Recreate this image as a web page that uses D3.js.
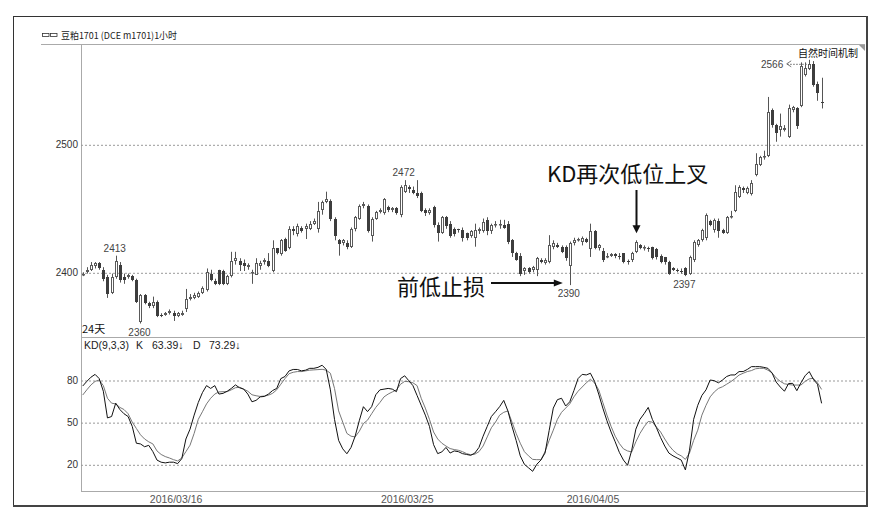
<!DOCTYPE html>
<html><head><meta charset="utf-8">
<script src="https://cdn.jsdelivr.net/npm/d3@7/dist/d3.min.js"></script>
<style>
html,body{margin:0;padding:0;background:#fff;}
svg{display:block;}
</style></head><body>
<svg id="c" width="888" height="520"></svg>
<script>
// ---------------- DATA ----------------
const titleText = "豆粕1701 (DCE m1701)1小时";
const priceTicks = [2400, 2500];
const kdTicks = [20, 50, 80];
const dateTickIdx = [23, 79, 124];
const dateTickLabels = ["2016/03/16", "2016/03/25", "2016/04/05"];

const open = [
2398,2400,2402,2405,2407,2402,2396,2384,2396,2406,
2396,2396,2397,2394,2361,2382,2376,2374,2377,2367,
2367,2368,2368,2366,2367,2371,2379,2380,2381,2384,
2386,2399,2393,2402,2401,2391,2397,2409,2409,2407,
2404,2400,2398,2405,2408,2409,2401,2419,2414,2426,
2419,2434,2430,2435,2434,2434,2438,2434,2449,2455,
2456,2442,2425,2423,2423,2420,2434,2442,2452,2452,
2428,2442,2447,2446,2451,2449,2450,2445,2463,2467,
2464,2462,2462,2449,2446,2451,2437,2431,2443,2438,
2434,2434,2433,2431,2428,2427,2432,2432,2441,2432,
2437,2437,2437,2438,2425,2415,2413,2401,2403,2402,
2402,2410,2407,2408,2420,2421,2420,2420,2405,2423,
2425,2424,2426,2418,2432,2419,2417,2413,2413,2414,
2413,2415,2409,2410,2416,2421,2419,2419,2420,2418,
2413,2412,2408,2403,2402,2401,2403,2399,2410,2421,
2425,2427,2440,2433,2440,2433,2431,2443,2448,2459,
2466,2462,2461,2476,2484,2490,2491,2527,2515,2511,
2511,2506,2527,2528,2530,2554,2559,2563,2547,2533
];
const high = [
2400,2404,2408,2408,2408,2404,2398,2399,2413,2408,
2399,2399,2398,2395,2383,2383,2377,2381,2378,2368,
2369,2371,2370,2369,2370,2387,2383,2384,2385,2389,
2403,2402,2395,2402,2402,2398,2416,2416,2411,2410,
2407,2402,2411,2409,2411,2415,2425,2419,2426,2427,
2436,2436,2438,2436,2438,2440,2442,2455,2456,2463,
2457,2443,2426,2426,2425,2435,2444,2453,2455,2453,
2443,2448,2450,2458,2452,2451,2451,2468,2472,2468,
2467,2472,2463,2450,2450,2452,2439,2444,2444,2440,
2435,2434,2435,2431,2433,2438,2435,2442,2443,2438,
2440,2441,2441,2440,2426,2416,2415,2404,2404,2405,
2412,2411,2411,2429,2425,2423,2421,2421,2424,2427,
2427,2428,2427,2438,2433,2422,2419,2415,2415,2415,
2415,2415,2410,2416,2425,2422,2421,2420,2420,2419,
2414,2412,2409,2404,2403,2403,2404,2413,2425,2426,
2434,2446,2441,2442,2442,2434,2444,2448,2468,2468,
2467,2467,2472,2493,2491,2495,2537,2528,2516,2524,
2515,2531,2530,2529,2564,2564,2566,2565,2549,2552
];
const low = [
2397,2399,2401,2403,2402,2393,2380,2383,2395,2392,
2391,2395,2393,2376,2360,2375,2372,2372,2365,2365,
2366,2367,2362,2365,2366,2369,2378,2379,2380,2383,
2385,2393,2390,2390,2390,2390,2396,2406,2401,2401,
2402,2391,2398,2402,2406,2404,2400,2414,2413,2416,
2418,2429,2428,2431,2426,2433,2437,2431,2445,2454,
2440,2425,2413,2421,2418,2419,2432,2441,2450,2431,
2424,2441,2446,2445,2447,2447,2445,2443,2462,2462,
2461,2458,2447,2444,2445,2435,2424,2430,2434,2427,
2428,2431,2424,2425,2427,2420,2430,2431,2429,2430,
2435,2434,2434,2422,2412,2409,2397,2398,2399,2400,
2397,2407,2406,2407,2418,2419,2415,2409,2390,2421,
2424,2421,2423,2412,2418,2417,2408,2411,2412,2411,
2410,2407,2406,2408,2415,2418,2417,2416,2410,2410,
2407,2406,2398,2401,2400,2399,2397,2398,2408,2420,
2424,2425,2436,2431,2427,2430,2430,2442,2447,2458,
2462,2461,2460,2475,2483,2488,2490,2513,2502,2506,
2510,2505,2525,2512,2529,2553,2558,2545,2534,2528
];
const close = [
2399,2402,2406,2407,2403,2395,2383,2396,2409,2394,
2394,2398,2394,2377,2382,2376,2374,2377,2366,2366,
2368,2370,2366,2368,2368,2379,2381,2382,2384,2388,
2400,2394,2391,2391,2391,2397,2409,2411,2406,2405,
2406,2400,2407,2407,2410,2405,2419,2415,2425,2417,
2434,2432,2436,2432,2436,2438,2440,2448,2455,2457,
2442,2428,2422,2425,2420,2434,2443,2452,2453,2432,
2442,2447,2449,2457,2449,2450,2446,2467,2468,2465,
2462,2460,2448,2446,2449,2437,2431,2443,2436,2428,
2430,2433,2427,2427,2432,2433,2434,2439,2432,2437,
2438,2438,2435,2424,2415,2410,2399,2403,2400,2404,
2411,2408,2410,2421,2423,2420,2416,2411,2423,2425,
2426,2427,2424,2432,2419,2421,2410,2413,2414,2413,
2412,2408,2408,2415,2424,2419,2420,2418,2411,2412,
2408,2408,2399,2402,2401,2400,2398,2412,2424,2425,
2433,2445,2437,2441,2432,2431,2443,2444,2463,2467,
2464,2466,2470,2485,2490,2491,2525,2515,2509,2514,
2513,2528,2529,2514,2561,2560,2563,2546,2540,2532
];
const kVals = [
75.7,79,82,84,81,72,53,54,63.5,59,
56,54,47,35,34.5,32.5,33.5,29,23,21.5,
21,21.5,21.5,20.5,24,38,45,55,64,71,
76,74,76,70,70.5,72,74,76.5,74.5,73.5,
70,64.5,65.5,68,68.3,70,72.5,74,81,82.5,
86.5,87.5,87.5,86.5,87,88.3,88.3,89,90.5,87.5,
73,52,37,31,27.5,32,40,51,61,57.5,
61,69.5,73,73.5,74,73.5,71.7,81,83,79.5,
76,69,62,55,47,34,27.6,28.8,32,28,
29.5,29,27.6,27,26.4,28,32,40,47,54,
57.4,61,65.5,58,47,37,26,20,17.5,15,
20,23,28,44,60,66,67,61.5,64.5,72.5,
81,84,83.6,84.8,79,70,60,51,43,36,
28.5,23,19.3,30,45,52,56,60.5,52,46,
39,33,28,26,24.5,23,16,30,52,62,
69,73,80,79.5,78,80,82.5,83.6,83.6,86,
86,87.5,89.5,89.5,89.5,89,88.3,85,78.5,75,
72,77.5,77.6,72.4,78,83,86,80.5,77,63.39
];
const dVals = [
69.3,73,76.5,79,80,76,67,63.5,63,60.5,
59,56,50,45.5,41,38,36,34.5,29.5,27,
25.5,24.5,23.3,22.4,24.5,29,33.6,42,52,57.4,
63,67,70,71.5,71.7,71.7,73,74.5,74.8,73.5,
72,69.5,68.8,68.3,68.6,69.2,70.5,73,77,81,
84.5,85.5,86,86,86.5,87,87.2,87.4,87.6,87,
84.8,74,58,50,42,40,39.5,43.5,49,51.4,
56,60.5,64,68,70,71.5,72.9,77,79,78.8,
78,76,67,60,52,43,38,35,33,31.2,
30.5,30,29,27.6,26.8,27.2,29,33,39.5,46,
50,55,57,58,50,42,35,29,26,23.5,
23.3,23.3,29,37,44.3,52,57,60,63,68,
72,75,78,80.5,78,73,64,55,47,40,
34.8,31,29.5,28.8,36,42,46.7,50.5,50,46.5,
43,38,33.5,30,27.5,26,23.5,28,37,44.3,
55,62,68,71.5,74,75.2,77,78.8,81,83.5,
84.8,86,86.7,88,88.3,88.3,87,85,81.5,79,
77.3,76.8,76.4,76.4,76.4,79,80.8,81.2,78,73.29
];
// extreme-price labels: bar index, which side
const highMarks = [8, 78];
const lowMarks = [14, 118, 146];
const peakMark = 176;
const periodLabel = "24天";
const modeLabel = "自然时间机制";
const kdName = "KD(9,3,3)";
const noteCross = "KD再次低位上叉";
const noteCrossIdx = 134;
const noteStop = "前低止损";
const noteStopIdx = 118;

// ---------------- LAYOUT ----------------
const svg = d3.select("#c");
const L = 81, R = 865, TOP = 44, MID = 337, BOT = 491;
const n = open.length;
const x = d3.scaleLinear().domain([0, n - 1]).range([82.7, 821.6]);
const yP = d3.scaleLinear().domain([2400, 2500]).range([272.3, 144.3]);
const yK = d3.scaleLinear().domain([20, 80]).range([464.3, 380]);
const numFont = "'Liberation Sans', Arial, sans-serif";
const cjkFont = "'Noto Sans CJK SC', 'Liberation Sans', sans-serif";

// outer frame
svg.append("line").attr("x1",13.5).attr("x2",13.5).attr("y1",16).attr("y2",507).attr("stroke","#333");
svg.append("line").attr("x1",13).attr("x2",868).attr("y1",16.5).attr("y2",16.5).attr("stroke","#333");
svg.append("rect").attr("x",866).attr("y",16).attr("width",2).attr("height",491).attr("fill","#444");
svg.append("rect").attr("x",13).attr("y",505).attr("width",855).attr("height",2).attr("fill","#444");

// title
svg.append("rect").attr("x",42.5).attr("y",33.5).attr("width",6.5).attr("height",3).attr("fill","none").attr("stroke","#333").attr("stroke-width",0.8);
svg.append("rect").attr("x",50.5).attr("y",33.5).attr("width",6.5).attr("height",3).attr("fill","none").attr("stroke","#333").attr("stroke-width",0.8);
svg.append("text").attr("x",61).attr("y",39).attr("font-family",cjkFont).attr("font-size",9.5)
  .attr("fill","#222").attr("textLength",116).attr("lengthAdjust","spacingAndGlyphs").text(titleText);

// pane lines
const paneStroke = "#aaa";
svg.append("line").attr("x1",41).attr("x2",R).attr("y1",TOP+0.5).attr("y2",TOP+0.5).attr("stroke",paneStroke);
svg.append("line").attr("x1",L+0.5).attr("x2",L+0.5).attr("y1",TOP).attr("y2",BOT+0.5).attr("stroke",paneStroke);
svg.append("line").attr("x1",L).attr("x2",R).attr("y1",MID+0.5).attr("y2",MID+0.5).attr("stroke",paneStroke);
svg.append("line").attr("x1",L).attr("x2",R).attr("y1",BOT+0.5).attr("y2",BOT+0.5).attr("stroke",paneStroke);
svg.append("path").attr("d",`M859,45 L865,45 L865,51 Z`).attr("fill","#999");

// gridlines + y labels
function yAxis(scale, ticks) {
  const grid = svg.append("g").attr("transform",`translate(${L},0)`)
    .call(d3.axisLeft(scale).tickValues(ticks).tickSize(-(R - L)).tickFormat(""));
  grid.select(".domain").remove();
  grid.selectAll(".tick line").attr("stroke","#999").attr("stroke-dasharray","2,2")
    .attr("transform","translate(0,0.5)");
  const lab = svg.append("g").attr("transform",`translate(${L},0)`)
    .call(d3.axisLeft(scale).tickValues(ticks).tickSize(0).tickPadding(3).tickFormat(d3.format("d")));
  lab.select(".domain").remove();
  lab.selectAll("text").attr("font-family",numFont).attr("font-size",10).attr("fill","#333");
}
yAxis(yP, priceTicks);
yAxis(yK, kdTicks);

// date axis
const xa = svg.append("g").attr("transform",`translate(0,${BOT})`)
  .call(d3.axisBottom(x)
    .tickValues(dateTickIdx.map(i => i - 0.5)).tickSize(0).tickPadding(5)
    .tickFormat((d, k) => dateTickLabels[k]));
xa.select(".domain").remove();
xa.selectAll("text").attr("font-family",numFont).attr("font-size",10.5).attr("fill","#555");

// candles
const idx = d3.range(n);
const cg = svg.append("g");
const cx = i => Math.round(x(i)) + 0.5;
cg.selectAll("line.w").data(idx).join("line").attr("class","w")
  .attr("x1",cx).attr("x2",cx).attr("y1",i => yP(high[i])).attr("y2",i => yP(low[i]))
  .attr("stroke","#555").attr("stroke-width",1);
cg.selectAll("rect.b").data(idx).join("rect").attr("class","b")
  .each(function(i) {
    const up = close[i] >= open[i];
    const yt = Math.round(yP(Math.max(open[i], close[i])));
    const yb = Math.round(yP(Math.min(open[i], close[i])));
    const h = Math.max(1, yb - yt);
    const s = d3.select(this);
    if (up) {
      s.attr("x", cx(i) - 1).attr("y", yt + 0.5).attr("width", 2).attr("height", Math.max(0.5, h - 1 + 0.001))
       .attr("fill","#fff").attr("stroke","#5a5a5a").attr("stroke-width",1);
    } else {
      s.attr("x", cx(i) - 1.5).attr("y", yt).attr("width", 3).attr("height", h).attr("fill","#3d3d3d");
    }
  });

// KD lines
const line = d3.line().x((v, i) => x(i)).y(v => yK(v));
svg.append("path").attr("d", line(dVals)).attr("fill","none").attr("stroke","#777").attr("stroke-width",1);
svg.append("path").attr("d", line(kVals)).attr("fill","none").attr("stroke","#111").attr("stroke-width",1);

// KD header
const hdrY = 349;
const kLast = kVals[n - 1], dLast = dVals[n - 1];
const hdr = [
  [84, kdName], [136, "K"], [152, kLast.toFixed(2) + "↓"], [193, "D"], [209, dLast.toFixed(2) + "↓"]
];
svg.selectAll("text.hdr").data(hdr).join("text").attr("class","hdr")
  .attr("x", d => d[0]).attr("y", hdrY).attr("font-family", numFont).attr("font-size", 10.5)
  .attr("fill","#222").text(d => d[1]);

// price extreme labels
const mk = svg.append("g").attr("font-family", numFont).attr("font-size", 10).attr("fill", "#444").attr("text-anchor","middle");
highMarks.forEach(i => mk.append("text").attr("x", x(i) - 1).attr("y", yP(high[i]) - 4).text(high[i]));
lowMarks.forEach(i => mk.append("text").attr("x", x(i) - 1).attr("y", yP(low[i]) + 12).text(low[i]));
// peak label with dotted arrow
const py = yP(high[peakMark]) + 4;
svg.append("text").attr("x", x(peakMark) - 26).attr("y", py + 4).attr("text-anchor","end")
  .attr("font-family", numFont).attr("font-size", 10).attr("fill","#444").text(high[peakMark]);
svg.append("path").attr("d", `M${x(peakMark)-18},${py-3} L${x(peakMark)-22.5},${py} L${x(peakMark)-18},${py+3}`)
  .attr("fill","none").attr("stroke","#666").attr("stroke-width",0.9);
svg.append("line").attr("x1", x(peakMark) - 22).attr("x2", x(peakMark) - 2).attr("y1", py + 0.5).attr("y2", py + 0.5)
  .attr("stroke","#666").attr("stroke-dasharray","1.5,1.5");

svg.append("text").attr("x", 82).attr("y", 333).attr("font-family", cjkFont).attr("font-size", 11).attr("fill","#111").text(periodLabel);
svg.append("text").attr("x", 858).attr("y", 57).attr("text-anchor","end").attr("font-family", cjkFont).attr("font-size", 10).attr("fill","#111").text(modeLabel);

// annotations
const ax = cx(noteCrossIdx);
const tipY = yP(high[noteCrossIdx]) - 7;
svg.append("line").attr("x1", ax).attr("x2", ax).attr("y1", 190).attr("y2", tipY - 7).attr("stroke","#111").attr("stroke-width",2);
svg.append("path").attr("d", `M${ax-4},${tipY-8} L${ax+4},${tipY-8} L${ax},${tipY} Z`).attr("fill","#111");
svg.append("text").attr("x", 547).attr("y", 172).attr("dominant-baseline","central")
  .attr("font-family", cjkFont).attr("font-size", 22).attr("fill","#111").text(noteCross);

const tipX = x(noteStopIdx) - 7;
const ay = 283;
svg.append("line").attr("x1", 491).attr("x2", tipX - 7).attr("y1", ay).attr("y2", ay).attr("stroke","#111").attr("stroke-width",2);
svg.append("path").attr("d", `M${tipX-9},${ay-3.5} L${tipX-9},${ay+3.5} L${tipX},${ay} Z`).attr("fill","#111");
svg.append("text").attr("x", 397).attr("y", 285).attr("dominant-baseline","central")
  .attr("font-family", cjkFont).attr("font-size", 22).attr("fill","#111").text(noteStop);
</script></body></html>
